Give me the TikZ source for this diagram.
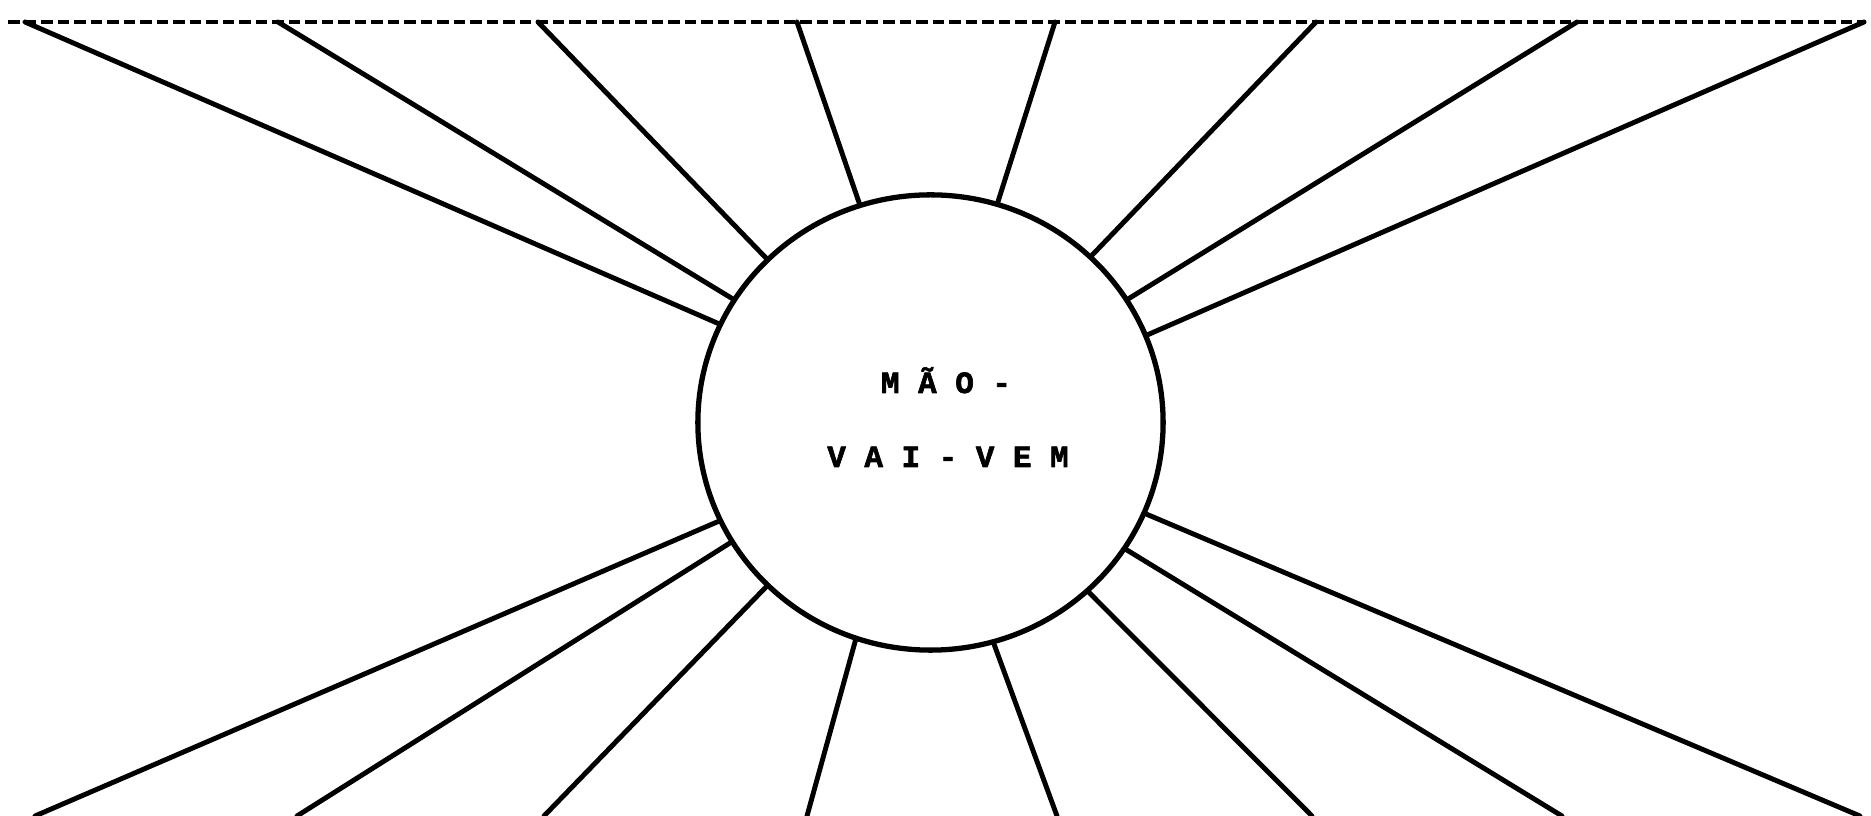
\documentclass[tikz,border=0pt]{standalone}
\usepackage{fontspec}
\usetikzlibrary{shapes.geometric}
\newfontfamily\hubfont{Liberation Mono}[BoldFeatures={FakeBold=2}]

\begin{document}
\begin{tikzpicture}[x=0.01cm, y=-0.01cm, line join=round, line cap=round,
  ray/.style={line width=1.4pt},
  caption/.style={font=\hubfont\bfseries\fontsize{8.8}{10}\selectfont, anchor=base, inner sep=0pt}]
  \useasboundingbox (0,0) rectangle (1871,816);

  % Hub
  \node[ellipse, draw, line width=1.5pt, minimum width=4.65cm, minimum height=4.55cm, inner sep=0pt] (hub) at (930.5,422.5) {};
  \node[caption] (line1) at (946,393) {M Ã O -};
  \node[caption] (line2) at (948,467) {V A I - V E M};

  % Dashed rim
  \coordinate (dl) at (8,22);
  \coordinate (dr) at (1866,22);
  \draw[line width=1.4pt, line cap=butt, dash pattern=on 1.15mm off 0.5mm] (dl) -- (dr);

  % Upper rays
  \foreach \a/\x [count=\i] in {155.4/25, 148.8/278, 135/538, 108.8/797, 73.4/1055, 46/1316, 32.2/1577, 22.2/1864} {
    \coordinate (u\i) at (\x,22);
    \draw[ray] (hub.\a) -- (u\i);
  }

  % Lower rays
  \foreach \a/\x [count=\i] in {205.1/35, 211.6/297, 225.2/544, 251.6/807, 286.7/1057, 313.6/1312, 327.2/1562, 337.9/1860} {
    \coordinate (d\i) at (\x,816);
    \draw[ray] (hub.\a) -- (d\i);
  }
\end{tikzpicture}
\end{document}
